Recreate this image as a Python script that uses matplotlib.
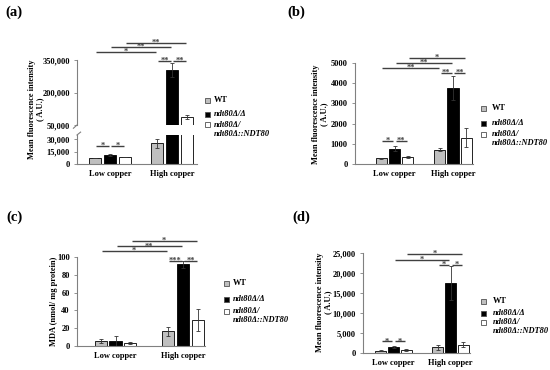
import numpy as np
import matplotlib
matplotlib.use("Agg")
import matplotlib.pyplot as plt
from matplotlib.patches import Rectangle
from matplotlib.ticker import FuncFormatter

plt.rcParams["font.family"] = ["Liberation Serif", "DejaVu Serif"]
plt.rcParams["font.weight"] = "bold"

W, H = 550, 370

groups = ["Low copper", "High copper"]
colors = ["#bfbfbf", "#000000", "#ffffff"]
legend_labels = ["WT", "ndt80Δ/Δ", "ndt80Δ/", "ndt80Δ::NDT80"]

# (a) mean fluorescence intensity (broken axis)
a_low = [7200, 10800, 8400]
a_low_err = [500, 700, 500]
a_high = [25200, 305000, 85000]
a_high_err = [5500, 32000, 9000]
a_ticks_top = [50000, 200000, 350000]
a_ticks_bottom = [0, 15000, 30000]

# (b) mean fluorescence intensity
b_low = [280, 760, 330]
b_low_err = [30, 140, 50]
b_high = [710, 3760, 1290]
b_high_err = [60, 580, 470]
b_ticks = [0, 1000, 2000, 3000, 4000, 5000]

# (c) MDA
c_low = [5.6, 5.3, 3.4]
c_low_err = [2.0, 6.0, 0.7]
c_high = [16.5, 92, 29.3]
c_high_err = [5.0, 4.0, 12.0]
c_ticks = [0, 20, 40, 60, 80, 100]

# (d) mean fluorescence intensity
d_low = [580, 1420, 830]
d_low_err = [100, 250, 250]
d_high = [1420, 17500, 2080]
d_high_err = [650, 4160, 600]
d_ticks = [0, 5000, 10000, 15000, 20000, 25000]

# significance brackets: (group, strain), (group, strain), label, height
a_sig = [((0, 0), (0, 1), "*", 21600), ((0, 1), (0, 2), "*", 21600),
         ((1, 0), (1, 1), "**", 345000), ((1, 1), (1, 2), "**", 345000),
         ((0, 0), (1, 0), "*", 387000), ((0, 1), (1, 1), "**", 410000),
         ((0, 2), (1, 2), "**", 428000)]
b_sig = [((0, 0), (0, 1), "*", 1150), ((0, 1), (0, 2), "**", 1150),
         ((1, 0), (1, 1), "**", 4500), ((1, 1), (1, 2), "**", 4500),
         ((0, 0), (1, 0), "**", 4750), ((0, 1), (1, 1), "**", 5000),
         ((0, 2), (1, 2), "*", 5250)]
c_sig = [((1, 0), (1, 1), "***", 96), ((1, 1), (1, 2), "**", 96),
         ((0, 0), (1, 0), "*", 107), ((0, 1), (1, 1), "**", 112),
         ((0, 2), (1, 2), "*", 118.4)]
d_sig = [((0, 0), (0, 1), "*", 2900), ((0, 1), (0, 2), "*", 2900),
         ((1, 0), (1, 1), "*", 22080), ((1, 1), (1, 2), "*", 22080),
         ((0, 1), (1, 1), "*", 23330), ((0, 2), (1, 2), "*", 24750)]

SPINE = "#808080"
LINE = "#404040"


def px_axes(fig, left, top, right, bottom):
    return fig.add_axes([left / W, 1 - bottom / H, (right - left) / W, (bottom - top) / H])


def style(ax):
    ax.spines["top"].set_visible(False)
    ax.spines["right"].set_visible(False)
    for s in ["left", "bottom"]:
        ax.spines[s].set_color(SPINE)
        ax.spines[s].set_linewidth(0.8)
    ax.tick_params(axis="y", length=2.2, width=0.6, color=SPINE, pad=3, labelsize=6)
    ax.tick_params(axis="x", length=0, pad=4, labelsize=6)


def draw_bars(ax, low, low_err, high, high_err, step, width):
    for i in range(3):
        x = np.arange(2) + (i - 1) * step
        ax.bar(x, [low[i], high[i]], width, yerr=[low_err[i], high_err[i]],
               color=colors[i], edgecolor="black", linewidth=0.6,
               error_kw=dict(ecolor="#333333", elinewidth=0.6, capsize=1.5, capthick=0.6))


def draw_sig(ax, sig, step, shrink=0.02):
    for (g1, s1), (g2, s2), label, y in sig:
        x1 = g1 + (s1 - 1) * step + shrink
        x2 = g2 + (s2 - 1) * step - shrink
        ax.plot([x1, x2], [y, y], color=LINE, lw=1.0, clip_on=False, solid_capstyle="butt")
        ax.text((x1 + x2) / 2, y, label, ha="center", va="center", fontsize=6,
                color=LINE, clip_on=False)


def draw_legend(fig, x_sq, x_txt, rows):
    for i, y in enumerate(rows):
        if i < 3:
            fig.add_artist(Rectangle(((x_sq - 2.5) / W, 1 - (y + 2.5) / H), 5 / W, 5 / H,
                                     transform=fig.transFigure, facecolor=colors[i],
                                     edgecolor="#505050", linewidth=0.6))
        fig.text(x_txt / W, 1 - y / H, legend_labels[i], va="center", ha="left",
                 fontsize=6, style="normal" if i == 0 else "italic")


comma = FuncFormatter(lambda v, p: f"{int(v):,}")

fig = plt.figure(figsize=(W / 100, H / 100), dpi=100)

# ---- (a) broken axis
a_cen = 110
a_unit = 62
a_xlim = ((77 - a_cen) / a_unit, (197 - a_cen) / a_unit)
ax_top = px_axes(fig, 77, 60, 197, 125)
ax_bot = px_axes(fig, 77, 135, 197, 164)
for ax in (ax_top, ax_bot):
    style(ax)
    draw_bars(ax, a_low, a_low_err, a_high, a_high_err, 0.24, 0.2)
    ax.set_xlim(*a_xlim)
    ax.yaxis.set_major_formatter(comma)
ax_top.set_ylim(50000, 350000)
ax_top.set_yticks(a_ticks_top)
ax_top.spines["bottom"].set_visible(False)
ax_top.set_xticks([])
ax_bot.set_ylim(0, 35000)
ax_bot.set_yticks(a_ticks_bottom)
ax_bot.set_xticks([0, 1])
ax_bot.set_xticklabels(groups)
draw_sig(ax_bot, [s for s in a_sig if s[3] < 35000], 0.24)
draw_sig(ax_top, [s for s in a_sig if s[3] >= 35000], 0.24)
# break marks
ax_top.plot([-0.03, 0.0], [-0.05, 0.0], transform=ax_top.transAxes, color=SPINE, lw=0.8, clip_on=False)
ax_bot.plot([0.0, 0.03], [1.0, 1.1], transform=ax_bot.transAxes, color=SPINE, lw=0.8, clip_on=False)
fig.text(36 / W, 1 - 109 / H, "Mean fluorescence intensity\n( A.U.)", rotation=90,
         ha="center", va="center", fontsize=6, linespacing=1.15)
fig.text(5 / W, 1 - 12 / H, "(a)", fontsize=10.5, va="center", ha="left")
draw_legend(fig, 207, 214, [100, 114, 125, 134])

# ---- (b)
b_cen = 394.5
b_unit = 58.5
ax_b = px_axes(fig, 355, 63, 473, 164)
style(ax_b)
draw_bars(ax_b, b_low, b_low_err, b_high, b_high_err, 0.227, 0.19)
ax_b.set_xlim((355 - b_cen) / b_unit, (473 - b_cen) / b_unit)
ax_b.set_ylim(0, 5000)
ax_b.set_yticks(b_ticks)
ax_b.set_xticks([0, 1])
ax_b.set_xticklabels(groups)
draw_sig(ax_b, b_sig, 0.227)
fig.text(320 / W, 1 - 114 / H, "Mean fluorescence intensity\n( A.U.)", rotation=90,
         ha="center", va="center", fontsize=6, linespacing=1.15)
fig.text(287 / W, 1 - 12 / H, "(b)", fontsize=10.5, va="center", ha="left")
draw_legend(fig, 483, 492, [108, 123, 134, 143])

# ---- (c)
c_cen = 115.5
c_unit = 67.5
ax_c = px_axes(fig, 77, 257, 205, 346)
style(ax_c)
draw_bars(ax_c, c_low, c_low_err, c_high, c_high_err, 0.222, 0.178)
ax_c.set_xlim((77 - c_cen) / c_unit, (205 - c_cen) / c_unit)
ax_c.set_ylim(0, 100)
ax_c.set_yticks(c_ticks)
ax_c.set_xticks([0, 1])
ax_c.set_xticklabels(groups)
draw_sig(ax_c, c_sig, 0.222)
fig.text(54 / W, 1 - 301 / H, "MDA (nmol/ mg protein)", rotation=90,
         ha="center", va="center", fontsize=6)
fig.text(6 / W, 1 - 217 / H, "(c)", fontsize=10.5, va="center", ha="left")
draw_legend(fig, 226, 233, [283, 299, 311, 320])

# ---- (d)
d_cen = 393.5
d_unit = 57
ax_d = px_axes(fig, 363, 253, 470, 353)
style(ax_d)
draw_bars(ax_d, d_low, d_low_err, d_high, d_high_err, 0.223, 0.193)
ax_d.set_xlim((363 - d_cen) / d_unit, (470 - d_cen) / d_unit)
ax_d.set_ylim(0, 25000)
ax_d.set_yticks(d_ticks)
ax_d.yaxis.set_major_formatter(comma)
ax_d.set_xticks([0, 1])
ax_d.set_xticklabels(groups)
draw_sig(ax_d, d_sig, 0.223)
fig.text(324 / W, 1 - 302 / H, "Mean fluorescence intensity\n( A.U.)", rotation=90,
         ha="center", va="center", fontsize=6, linespacing=1.15)
fig.text(292 / W, 1 - 217 / H, "(d)", fontsize=10.5, va="center", ha="left")
draw_legend(fig, 483, 493, [301, 313, 322, 331])

fig.savefig("out.png", dpi=100)
